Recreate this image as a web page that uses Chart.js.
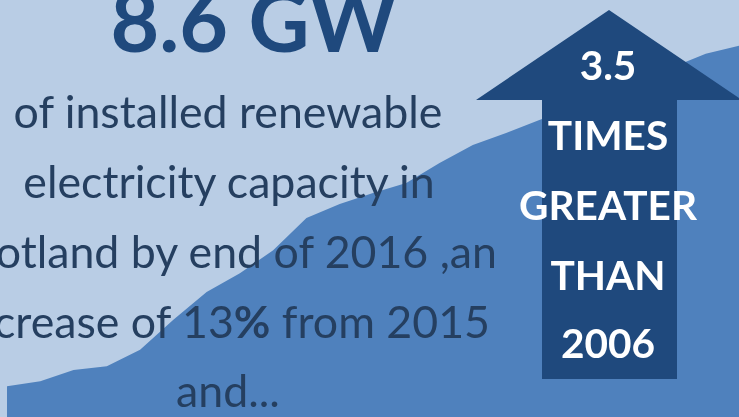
<!DOCTYPE html>
<html lang="en">
<head>
    <meta charset="UTF-8">
    <title>Renewable Capacity</title>
    <script src="https://cdn.jsdelivr.net/npm/chart.js"></script>
    <style>
        body {
            margin: 0;
            padding: 0;
            background-color: #b9cde5;
            overflow: hidden;
        }
        .wrap {
            position: relative;
            width: 739px;
            height: 417px;
        }
        #areaChart, #overlay {
            position: absolute;
            left: 0;
            top: 0;
        }
        #overlay text {
            font-family: Lato, "Open Sans", sans-serif;
        }
    </style>
</head>
<body>
    <div class="wrap">
        <canvas id="areaChart" width="739" height="417"></canvas>
        <svg id="overlay" width="739" height="417" viewBox="0 0 739 417">
            <polygon id="arrow" fill="#1f497d"
                points="609,10 742,100 677,100 677,379 542,379 542,100 476,100" />
            <text id="bigValue" x="254" y="52" text-anchor="middle" fill="#1f497d" font-weight="bold">8.6 GW</text>
            <g id="bodyText" fill="#253f60"></g>
            <g id="arrowText" fill="#ffffff" font-weight="bold" text-anchor="middle"></g>
        </svg>
    </div>

    <script>
        // installed renewable capacity (GW), half-yearly
        const periods = ['2006 H1', '2006 H2', '2007 H1', '2007 H2', '2008 H1', '2008 H2',
            '2009 H1', '2009 H2', '2010 H1', '2010 H2', '2011 H1', '2011 H2',
            '2012 H1', '2012 H2', '2013 H1', '2013 H2', '2014 H1', '2014 H2',
            '2015 H1', '2015 H2', '2016 H1', '2016 H2', '2017 H1'];
        const capacity = [0.74, 0.86, 1.13, 1.22, 1.61, 2.33, 3.00, 3.45, 4.00, 4.77, 5.11, 5.37,
            5.61, 6.09, 6.52, 6.81, 7.12, 7.41, 7.72, 8.03, 8.39, 8.71, 8.90];

        const bodyLines = [
            { text: 'of installed renewable', x: 228, y: 128, anchor: 'middle' },
            { text: 'electricity capacity in', x: 229, y: 198, anchor: 'middle' },
            { text: 'Scotland by end of 2016 ,an', x: 497, y: 268, anchor: 'end' },
            { text: 'increase of 13', bold: '%', after: ' from 2015', x: 490, y: 338, anchor: 'end' },
            { text: 'and...', x: 228, y: 407, anchor: 'middle' }
        ];
        const arrowLines = ['3.5', 'TIMES', 'GREATER', 'THAN', '2006'];
        const arrowBaselines = [80, 150, 220, 290, 358];

        const svgNS = 'http://www.w3.org/2000/svg';

        // size a text so its width matches the picture
        function fitSize(el, target) {
            el.setAttribute('font-size', 100);
            const w = el.getComputedTextLength();
            return 100 * target / w;
        }

        const big = document.getElementById('bigValue');
        big.setAttribute('font-size', fitSize(big, 287));

        const bodyGroup = document.getElementById('bodyText');
        const bodyEls = bodyLines.map(line => {
            const t = document.createElementNS(svgNS, 'text');
            t.setAttribute('x', line.x);
            t.setAttribute('y', line.y);
            t.setAttribute('text-anchor', line.anchor);
            t.textContent = line.text;
            if (line.bold) {
                const b = document.createElementNS(svgNS, 'tspan');
                b.setAttribute('font-weight', 'bold');
                b.textContent = line.bold;
                t.appendChild(b);
                t.appendChild(document.createTextNode(line.after));
            }
            bodyGroup.appendChild(t);
            return t;
        });
        const bodySize = fitSize(bodyEls[0], 429);
        bodyEls.forEach(t => t.setAttribute('font-size', bodySize));

        const arrowGroup = document.getElementById('arrowText');
        const arrowEls = arrowLines.map((txt, i) => {
            const t = document.createElementNS(svgNS, 'text');
            t.setAttribute('x', 608);
            t.setAttribute('y', arrowBaselines[i]);
            t.textContent = txt;
            arrowGroup.appendChild(t);
            return t;
        });
        const arrowSize = fitSize(arrowEls[2], 178);
        arrowEls.forEach(t => t.setAttribute('font-size', arrowSize));

        const ctx = document.getElementById('areaChart').getContext('2d');
        new Chart(ctx, {
            type: 'line',
            data: {
                labels: periods,
                datasets: [{
                    data: capacity,
                    fill: 'origin',
                    backgroundColor: '#4f81bd',
                    borderWidth: 0,
                    pointRadius: 0,
                    tension: 0
                }]
            },
            options: {
                responsive: false,
                animation: false,
                layout: { padding: { left: 7, right: 0, top: 0, bottom: 0 } },
                plugins: {
                    legend: { display: false },
                    tooltip: { enabled: false }
                },
                scales: {
                    x: { display: false },
                    y: { display: false, min: 0, max: 10 }
                }
            }
        });
    </script>
</body>
</html>
